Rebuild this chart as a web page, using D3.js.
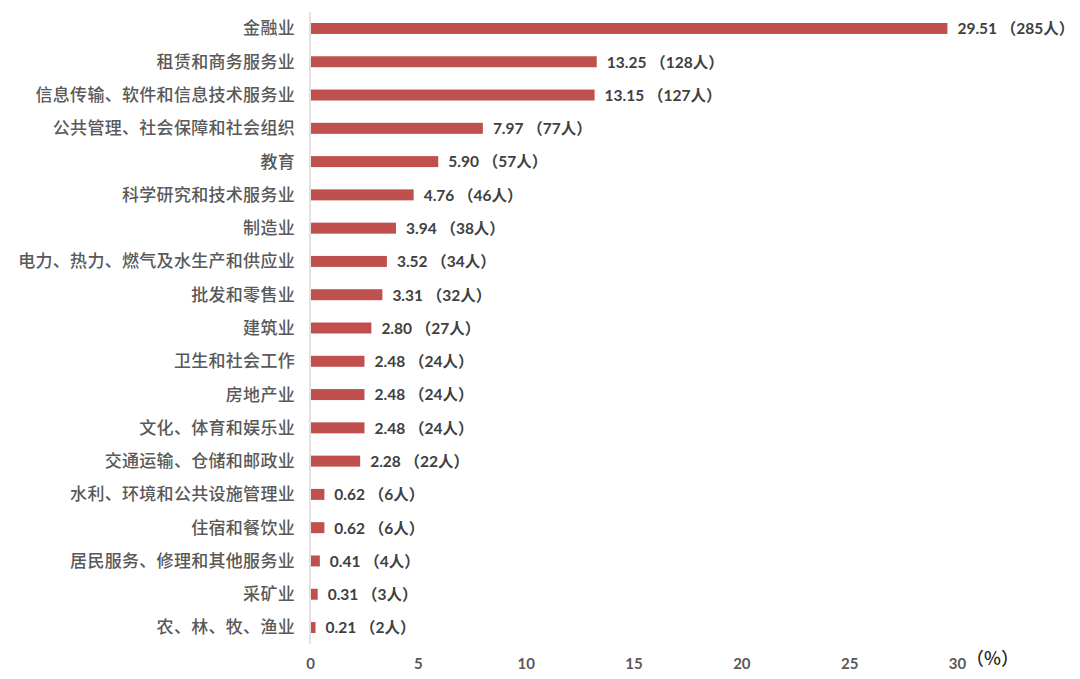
<!DOCTYPE html>
<html>
<head>
<meta charset="utf-8">
<script src="https://cdn.jsdelivr.net/npm/d3@7"></script>
<style>
  body { margin: 0; background: #fff; }
  svg { display: block; }
</style>
</head>
<body>
<div id="chart"></div>
<script>
const categories = [
  '金融业', '租赁和商务服务业', '信息传输、软件和信息技术服务业', '公共管理、社会保障和社会组织',
  '教育', '科学研究和技术服务业', '制造业', '电力、热力、燃气及水生产和供应业',
  '批发和零售业', '建筑业', '卫生和社会工作', '房地产业', '文化、体育和娱乐业',
  '交通运输、仓储和邮政业', '水利、环境和公共设施管理业', '住宿和餐饮业',
  '居民服务、修理和其他服务业', '采矿业', '农、林、牧、渔业'
];
const percents = [29.51, 13.25, 13.15, 7.97, 5.90, 4.76, 3.94, 3.52, 3.31, 2.80, 2.48, 2.48, 2.48, 2.28, 0.62, 0.62, 0.41, 0.31, 0.21];
const people = [285, 128, 127, 77, 57, 46, 38, 34, 32, 27, 24, 24, 24, 22, 6, 6, 4, 3, 2];
const xTicks = [0, 5, 10, 15, 20, 25, 30];

const width = 1080, height = 679;
const margin = { left: 310, right: 123, top: 12, bottom: 34 };

const svg = d3.select('#chart').append('svg')
  .attr('width', width)
  .attr('height', height);

const x = d3.scaleLinear()
  .domain([0, 30])
  .range([margin.left, width - margin.right]);

const y = d3.scaleBand()
  .domain(categories)
  .range([margin.top, height - margin.bottom - 1])
  .paddingInner(0.67)
  .paddingOuter(0.33);

// category axis line
svg.append('line')
  .attr('x1', x(0)).attr('x2', x(0))
  .attr('y1', margin.top).attr('y2', height - margin.bottom - 1)
  .attr('stroke', '#d9d9d9')
  .attr('stroke-width', 1.5);

// bars
svg.selectAll('rect.bar')
  .data(categories)
  .join('rect')
  .attr('class', 'bar')
  .attr('x', x(0) + 1)
  .attr('y', d => y(d))
  .attr('width', (d, i) => x(percents[i]) - x(0))
  .attr('height', y.bandwidth())
  .attr('fill', '#c0504d');

// category labels
svg.selectAll('text.cat')
  .data(categories)
  .join('text')
  .attr('class', 'cat')
  .attr('x', x(0) - 15)
  .attr('y', d => y(d) + y.bandwidth() / 2)
  .attr('dy', '0.35em')
  .attr('text-anchor', 'end')
  .attr('fill', '#595959')
  .style('font-family', '"Noto Sans CJK SC", sans-serif')
  .style('font-size', '17px')
  .style('font-weight', 500)
  .style('letter-spacing', '0.3px')
  .text(d => d);

// value labels
svg.selectAll('text.val')
  .data(categories)
  .join('text')
  .attr('class', 'val')
  .attr('x', (d, i) => x(percents[i]) + 11)
  .attr('y', d => y(d) + y.bandwidth() / 2)
  .attr('dy', '0.38em')
  .attr('fill', '#404040')
  .style('font-family', 'Lato, "Noto Sans CJK SC", sans-serif')
  .style('font-weight', 'bold')
  .style('font-size', '15.5px')
  .text((d, i) => `${percents[i].toFixed(2)} （${people[i]}人）`);

// x tick labels
const xAxis = svg.append('g')
  .attr('transform', `translate(0,${height - margin.bottom + 6})`)
  .call(d3.axisBottom(x).tickValues(xTicks).tickSize(0).tickPadding(0));
xAxis.select('.domain').remove();
xAxis.selectAll('text')
  .attr('dy', '1.2em')
  .attr('fill', '#595959')
  .style('font-family', 'Lato, sans-serif')
  .style('font-weight', 'bold')
  .style('font-size', '15px');

svg.append('text')
  .attr('x', x(30) + 9)
  .attr('y', height - margin.bottom + 7)
  .attr('dy', '0.71em')
  .attr('fill', '#262626')
  .style('font-family', '"Noto Sans CJK SC", sans-serif')
  .style('font-size', '18px')
  .style('font-weight', 500)
  .text('（%）');
</script>
</body>
</html>
